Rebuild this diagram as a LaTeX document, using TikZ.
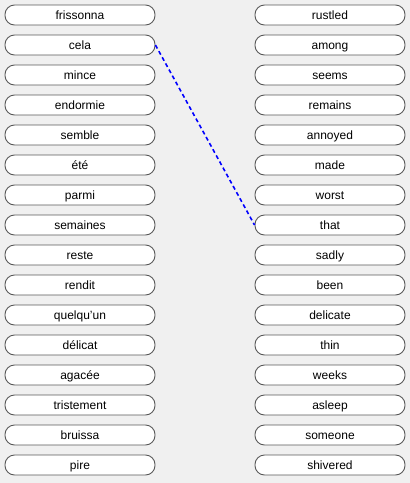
\documentclass[tikz,border=0pt]{standalone}
\usepackage{fontspec}
\setmainfont{Liberation Sans}
\begin{document}
\begin{tikzpicture}[x=1pt,y=-1pt,
  wordbox/.style={draw=black!65,fill=white,line width=0.9pt,rounded corners=9.5pt,
    minimum width=150pt,minimum height=20pt,inner sep=0pt,text height=9.5pt,text depth=1.5pt,
    font=\fontsize{12}{14}\selectfont},
  link/.style={draw=blue,line width=1.6pt,dash pattern=on 4pt off 3pt}]
\fill[gray!12] (0,0) rectangle (410,483);
\useasboundingbox (0,0) rectangle (410,483);
\foreach \w [count=\i from 0] in {frissonna,cela,mince,endormie,semble,été,parmi,semaines,reste,rendit,quelqu{\char"0027}un,délicat,agacée,tristement,bruissa,pire}
  \node[wordbox] (l\i) at (80,15+30*\i) {\w};
\foreach \w [count=\i from 0] in {rustled,among,seems,remains,annoyed,made,worst,that,sadly,been,delicate,thin,weeks,asleep,someone,shivered}
  \node[wordbox] (r\i) at (330,15+30*\i) {\w};
\draw[link] (l1.east) -- (r7.west);
\end{tikzpicture}
\end{document}
